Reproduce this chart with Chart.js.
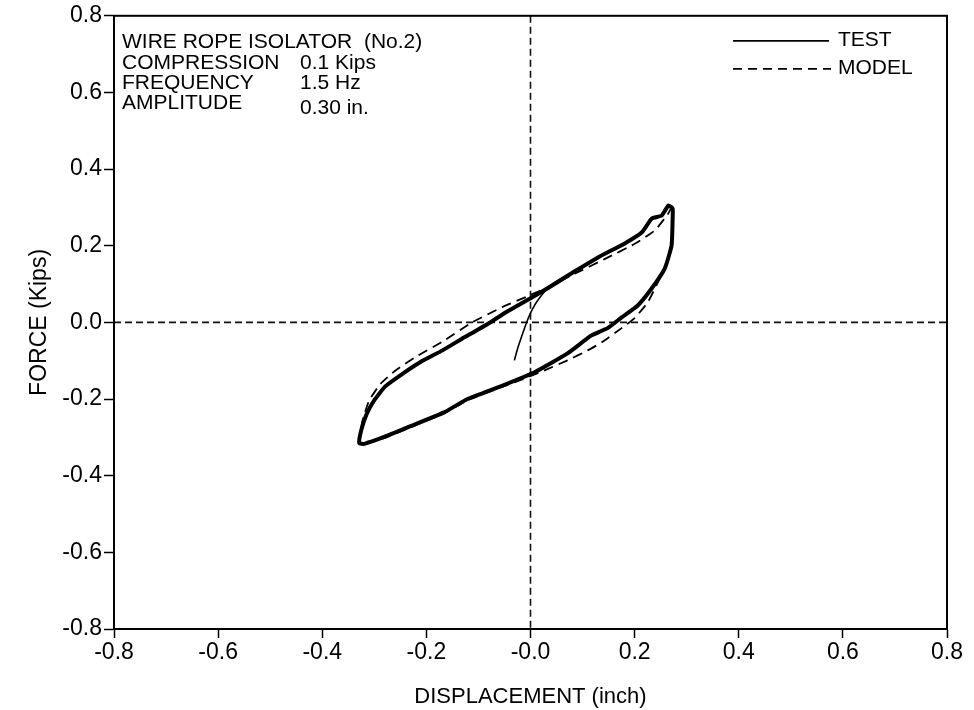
<!DOCTYPE html>
<html>
<head>
<meta charset="utf-8">
<script src="https://cdn.jsdelivr.net/npm/chart.js@4.4.0/dist/chart.umd.min.js"></script>
<style>
  html, body { margin: 0; padding: 0; background: #fff; }
  #wrap { width: 974px; height: 710px; }
</style>
</head>
<body>
<div id="wrap"><canvas id="hyst" width="974" height="710"></canvas></div>
<script>
// values
// TEST: start-up transient (first 6 points), then one loop plus overlap
const testDisp = [
  -0.031, -0.024, -0.014, -0.004, 0.008, 0.022,
  0.033, 0.081, 0.129, 0.181, 0.214, 0.233, 0.252, 0.265, 0.273, 0.273,
  0.271, 0.258, 0.233, 0.206, 0.175, 0.148, 0.117, 0.071, 0.008, -0.056,
  -0.121, -0.165, -0.229, -0.281, -0.319, -0.329,
  -0.325, -0.315, -0.300, -0.279, -0.250, -0.212, -0.169, -0.127, -0.083,
  -0.044, 0.000, 0.033, 0.081];
const testForce = [
  -0.099, -0.065, -0.025, 0.012, 0.045, 0.072,
  0.089, 0.130, 0.169, 0.206, 0.235, 0.271, 0.279, 0.305, 0.297, 0.271,
  0.201, 0.141, 0.089, 0.044, 0.013, -0.015, -0.034, -0.081, -0.130, -0.166,
  -0.200, -0.234, -0.270, -0.299, -0.317, -0.315,
  -0.281, -0.240, -0.203, -0.167, -0.138, -0.104, -0.073, -0.039, -0.005,
  0.029, 0.063, 0.089, 0.130];

const modelDisp = [
  -0.329, -0.323, -0.310, -0.288, -0.260, -0.223, -0.169, -0.112, -0.054,
  -0.006, 0.038, 0.085, 0.142, 0.200, 0.239, 0.265, 0.271,
  0.273, 0.264, 0.242, 0.225, 0.200, 0.175, 0.137, 0.110, 0.071,
  0.027, -0.011, -0.056, -0.121, -0.165, -0.229, -0.281, -0.329];
const modelForce = [
  -0.315, -0.258, -0.204, -0.160, -0.126, -0.092, -0.050, 0.000, 0.040,
  0.068, 0.095, 0.127, 0.165, 0.205, 0.240, 0.285, 0.300,
  0.240, 0.162, 0.097, 0.052, 0.011, -0.015, -0.052, -0.073, -0.099,
  -0.125, -0.146, -0.169, -0.203, -0.237, -0.273, -0.302, -0.315];

const xTickLabels = ['-0.8', '-0.6', '-0.4', '-0.2', '-0.0', '0.2', '0.4', '0.6', '0.8'];
const yTickLabels = ['-0.8', '-0.6', '-0.4', '-0.2', '0.0', '0.2', '0.4', '0.6', '0.8'];

const noteLabels = ['WIRE ROPE ISOLATOR  (No.2)', 'COMPRESSION', 'FREQUENCY', 'AMPLITUDE'];
const noteValues = ['', '0.1 Kips', '1.5 Hz', '0.30 in.'];
const seriesNames = ['TEST', 'MODEL'];

const FONT = '"Liberation Sans", Arial, Helvetica, sans-serif';
const TRANSIENT = 6; // segments drawn thin at the start of TEST

const toPoints = (xs, ys) => xs.map((x, i) => ({ x: x, y: ys[i] }));

// box around plot, dashed zero lines, notes and legend
const decorations = {
  id: 'decorations',
  beforeDatasetsDraw(chart) {
    const { ctx, chartArea: a, scales } = chart;
    const x0 = scales.x.getPixelForValue(0);
    const y0 = scales.y.getPixelForValue(0);
    ctx.save();
    ctx.strokeStyle = '#111';
    ctx.lineWidth = 1.6;
    ctx.setLineDash([7, 4]);
    ctx.beginPath();
    ctx.moveTo(x0, a.top);
    ctx.lineTo(x0, a.bottom);
    ctx.moveTo(a.left, y0);
    ctx.lineTo(a.right, y0);
    ctx.stroke();
    ctx.restore();
  },
  afterDraw(chart) {
    const { ctx, chartArea: a } = chart;
    ctx.save();
    ctx.strokeStyle = '#000';
    ctx.lineWidth = 2;
    ctx.strokeRect(a.left, a.top, a.right - a.left, a.bottom - a.top);

    ctx.fillStyle = '#000';
    ctx.font = '21px ' + FONT;
    ctx.textBaseline = 'alphabetic';
    ctx.textAlign = 'left';
    const lineY = [32, 53, 73, 93];
    noteLabels.forEach((t, i) => {
      ctx.fillText(t, a.left + 8, a.top + lineY[i]);
    });
    noteValues.forEach((t, i) => {
      if (!t) return;
      const dy = i === 3 ? 5 : 0;
      ctx.fillText(t, a.left + 186, a.top + lineY[i] + dy);
    });

    // legend
    const lx1 = a.right - 214, lx2 = a.right - 118;
    ctx.lineWidth = 1.8;
    ctx.beginPath();
    ctx.moveTo(lx1, a.top + 25);
    ctx.lineTo(lx2, a.top + 25);
    ctx.stroke();
    ctx.setLineDash([9, 6]);
    ctx.beginPath();
    ctx.moveTo(lx1, a.top + 53);
    ctx.lineTo(lx2 + 2, a.top + 53);
    ctx.stroke();
    ctx.setLineDash([]);
    ctx.fillText(seriesNames[0], a.right - 109, a.top + 30);
    ctx.fillText(seriesNames[1], a.right - 109, a.top + 58);
    ctx.restore();
  }
};

new Chart(document.getElementById('hyst'), {
  type: 'scatter',
  data: {
    datasets: [
      {
        label: seriesNames[0],
        data: toPoints(testDisp, testForce),
        showLine: true,
        borderColor: '#000',
        borderWidth: 4,
        pointRadius: 0,
        tension: 0.15,
        segment: {
          borderWidth: c => (c.p0DataIndex < TRANSIENT ? 1.6 : 4)
        }
      },
      {
        label: seriesNames[1],
        data: toPoints(modelDisp, modelForce),
        showLine: true,
        borderColor: '#000',
        borderWidth: 1.8,
        borderDash: [10, 6],
        pointRadius: 0,
        tension: 0.15
      }
    ]
  },
  options: {
    responsive: false,
    animation: false,
    layout: { padding: { top: 15, right: 27, left: 0, bottom: 0 } },
    plugins: {
      legend: { display: false },
      tooltip: { enabled: false }
    },
    scales: {
      x: {
        type: 'linear',
        min: -0.8,
        max: 0.8,
        afterFit: s => { s.height = 81; },
        ticks: {
          stepSize: 0.2,
          color: '#000',
          font: { family: FONT, size: 23 },
          padding: 1,
          maxRotation: 0,
          callback: (v, i) => xTickLabels[i]
        },
        grid: { drawOnChartArea: false, tickLength: 9, tickColor: '#000', tickWidth: 1.5 },
        border: { color: '#000', width: 2 },
        title: {
          display: true,
          text: 'DISPLACEMENT (inch)',
          color: '#000',
          font: { family: FONT, size: 22 },
          padding: { top: 6, bottom: 0 }
        }
      },
      y: {
        type: 'linear',
        min: -0.8,
        max: 0.8,
        afterFit: s => { s.width = 114; },
        ticks: {
          stepSize: 0.2,
          color: '#000',
          font: { family: FONT, size: 23 },
          padding: 2,
          callback: (v, i) => yTickLabels[i]
        },
        grid: { drawOnChartArea: false, tickLength: 10, tickColor: '#000', tickWidth: 1.5 },
        border: { color: '#000', width: 2 },
        title: {
          display: true,
          text: 'FORCE (Kips)',
          color: '#000',
          font: { family: FONT, size: 23 },
          padding: { top: 26, bottom: 0 }
        }
      }
    }
  },
  plugins: [decorations]
});
</script>
</body>
</html>
